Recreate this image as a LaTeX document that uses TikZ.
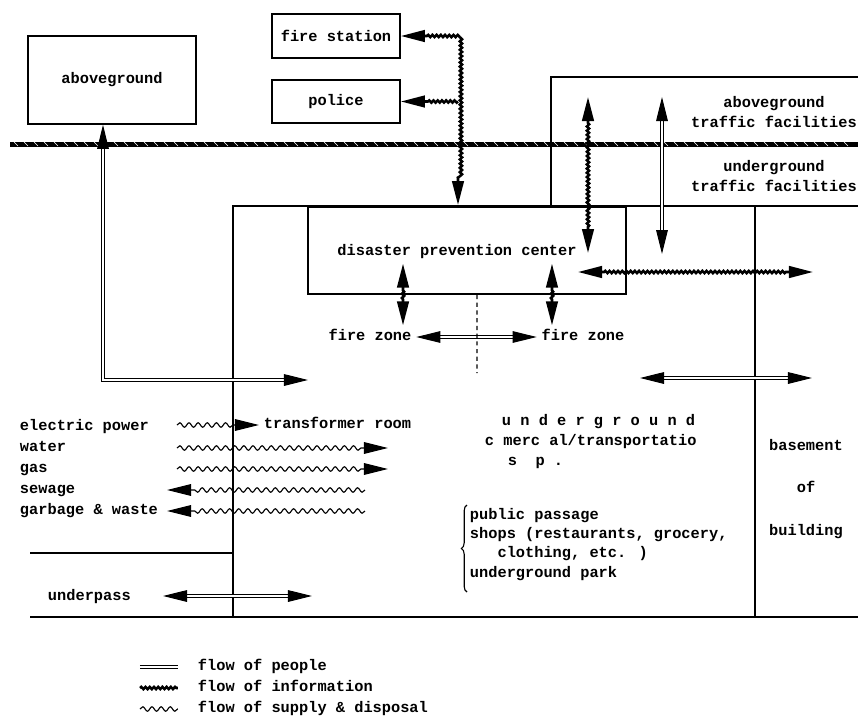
\documentclass[tikz,border=0pt]{standalone}
\usepackage{fontspec}
\setmainfont{Liberation Mono}
\usetikzlibrary{arrows.meta,decorations.pathmorphing,decorations.pathreplacing}

\begin{document}
\begin{tikzpicture}[
  x=0.025cm, y=-0.025cm,
  font=\bfseries\fontsize{10.9}{14.5}\selectfont,
  >={Triangle[length=6mm,width=2.9mm]},
  box/.style={draw, line width=1.2pt, inner sep=0pt},
  wall/.style={line width=1.2pt},
  lbl/.style={text height=7.5pt, text depth=2pt},
  people/.style={double, double distance=1.4pt, line width=0.7pt},
  info/.style={line width=1.8pt, decorate,
               decoration={snake, amplitude=0.8pt, segment length=3pt}},
  supply/.style={line width=0.8pt, decorate,
                 decoration={snake, amplitude=1.6pt, segment length=6.5pt}},
  tipboth/.style={decoration={pre length=6.5mm, post length=6.5mm}},
  tipend/.style={decoration={post length=6.5mm}}
]
\useasboundingbox (0,0) rectangle (858,719);

% Ground level
\draw[line width=0.125cm] (10,144) -- (858,144);
\foreach \x in {14,24,...,850}
  \draw[white, line width=0.4pt] (\x,142) -- ++(4,4);

% Aboveground boxes
\node[box, minimum width=4.2cm, minimum height=2.2cm] (above) at (112,80) {aboveground};
\node[box, minimum width=3.2cm, minimum height=1.1cm] (firest) at (336,36) {fire station};
\node[box, minimum width=3.2cm, minimum height=1.075cm] (police) at (336,101.5) {police};

% Walls of the underground spaces
\draw[wall] (551,206) -- (551,77) -- (858,77);
\draw[wall] (233,617) -- (233,206) -- (858,206);
\draw[wall] (755,206) -- (755,617);
\draw[wall] (30,617) -- (858,617);
\draw[wall] (30,553) -- (233,553);

\node[box, minimum width=7.95cm, minimum height=2.175cm] (dpc) at (467,250.5) {};
\node[lbl] (dpctext) at (457,252) {disaster prevention center};

% Labels
\node[align=center] (agtraffic) at (774,112) {aboveground\\traffic facilities};
\node[align=center] (ugtraffic) at (774,176) {underground\\traffic facilities};
\node[lbl] (fzl) at (370,337) {fire zone};
\node[lbl] (fzr) at (583,337) {fire zone};
\node[lbl, anchor=west] (trans) at (259,425) {transformer room};

\node[lbl, anchor=west] (elec) at (15,427) {electric power};
\node[lbl, anchor=west] (water) at (15,448) {water};
\node[lbl, anchor=west] (gas) at (15,469) {gas};
\node[lbl, anchor=west] (sewage) at (15,490) {sewage};
\node[lbl, anchor=west] (garbage) at (15,511) {garbage \& waste};
\node[lbl, anchor=west] (underpass) at (43,597) {underpass};

\node[lbl, anchor=west] (ug1) at (497,422) {u n d e r g r o u n d};
\node[lbl, anchor=west] (ug2) at (480,442) {c\ merc al/transportatio};
\node[lbl, anchor=west] (ug3) at (503,462) {s\ \ p .};
\node[anchor=north west, align=left, font=\bfseries\fontsize{10.9}{13.8}\selectfont]
  (uses) at (465,503)
  {public passage\\shops (restaurants, grocery,\\\hspace*{1.8em}clothing, etc. )\\underground park};
\node[align=center] (basement) at (806,489) {basement\\[16pt]of\\[16pt]building};

% Free ends of the flows
\coordinate (fsdrop) at (458,205);
\coordinate (tinfoT) at (588,97);
\coordinate (tinfoB) at (588,253);
\coordinate (tpplT) at (662,97);
\coordinate (tpplB) at (662,254);
\coordinate (binfoL) at (578,272);
\coordinate (binfoR) at (813,272);
\coordinate (bpplL) at (640,378);
\coordinate (bpplR) at (812,378);
\coordinate (agfoot) at (308,380);
\coordinate (zoneend) at (477,373);
\coordinate (upL) at (163,596);
\coordinate (upR) at (312,596);
\coordinate (supout) at (177,0);
\coordinate (supin) at (388,0);
\coordinate (retout) at (167,0);
\coordinate (retin) at (365,0);
\coordinate (braceB) at (467,592);
\coordinate (braceT) at (467,505);

% Flow of information
\draw[info, tipboth, <->] (firest.east) -| (fsdrop);
\draw[info, tipend, ->] (police.east -| fsdrop) -- (police.east);
\draw[info, tipboth, <->] (tinfoT) -- (tinfoB);
\draw[info, tipboth, <->] (binfoL) -- (binfoR);
\draw[info, tipboth, <->] ([xshift=0.825cm]fzl.north) -- ([xshift=0.825cm]fzl.north |- dpctext.south);
\draw[info, tipboth, <->] ([xshift=-0.775cm]fzr.north) -- ([xshift=-0.775cm]fzr.north |- dpctext.south);

% Flow of people
\draw[people, <->] (agfoot) -| ([xshift=-0.225cm]above.south);
\draw[people, <->] (tpplT) -- (tpplB);
\draw[people, <->] (fzl.east) -- (fzr.west);
\draw[people, <->] (bpplL) -- (bpplR);
\draw[people, <->] (upL) -- (upR);

% Flow of supply & disposal
\draw[supply, tipend, ->] (supout |- trans.west) -- (trans.west);
\draw[supply, tipend, ->] (supout |- water.west) -- (supin |- water.west);
\draw[supply, tipend, ->] (supout |- gas.west) -- (supin |- gas.west);
\draw[supply, tipend, ->] (retin |- sewage.west) -- (retout |- sewage.west);
\draw[supply, tipend, ->] (retin |- garbage.west) -- (retout |- garbage.west);

% Fire zone border and brace
\draw[line width=1pt, dash pattern=on 3pt off 2.5pt] ([xshift=0.25cm]dpc.south) -- (zoneend);
\draw[line width=0.8pt, decorate, decoration={brace, amplitude=4pt}] (braceB) -- (braceT);

% Legend
\node[lbl, anchor=west] (lgpeople) at (193,667) {flow of people};
\node[lbl, anchor=west] (lginfo) at (193,688) {flow of information};
\node[lbl, anchor=west] (lgsupply) at (193,709) {flow of supply \& disposal};
\draw[people] ([xshift=-1.325cm]lgpeople.west) -- ([xshift=-0.375cm]lgpeople.west);
\draw[info] ([xshift=-1.325cm]lginfo.west) -- ([xshift=-0.375cm]lginfo.west);
\draw[supply] ([xshift=-1.325cm]lgsupply.west) -- ([xshift=-0.375cm]lgsupply.west);

\end{tikzpicture}
\end{document}
